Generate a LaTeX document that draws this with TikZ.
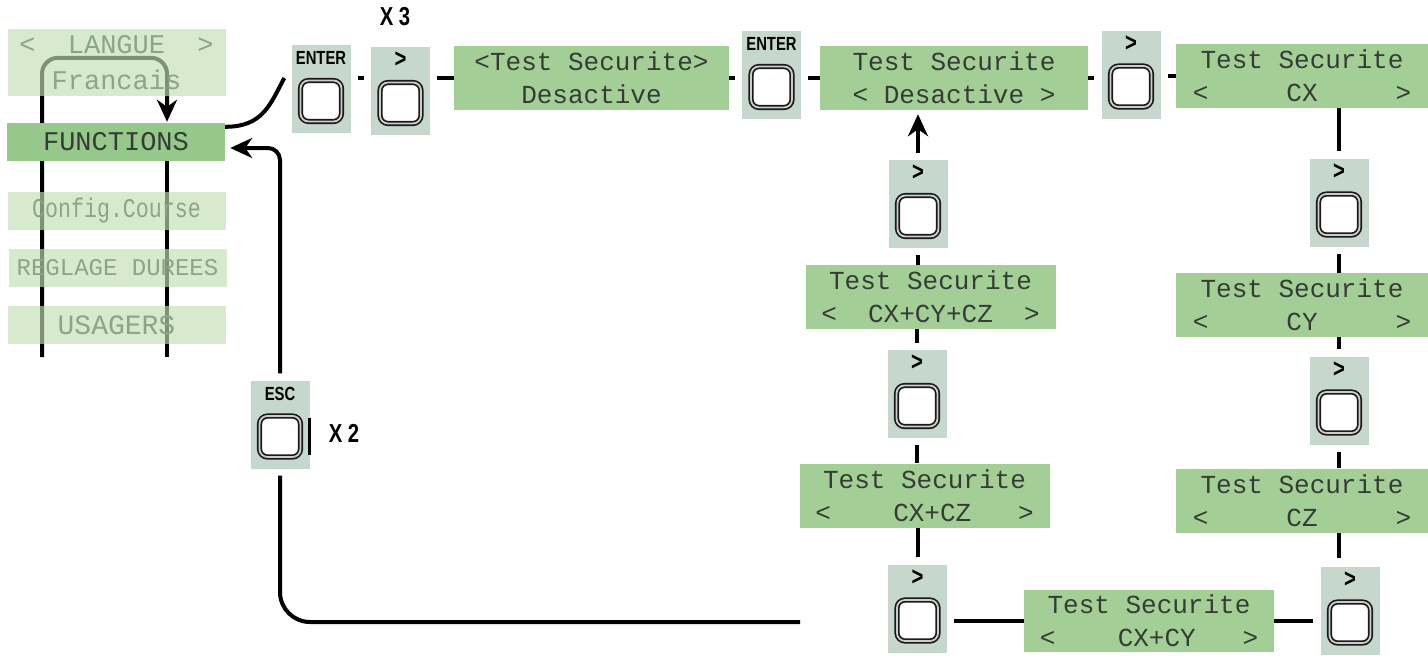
\documentclass[tikz,border=0pt]{standalone}
\usepackage{fontspec}
\usepackage{graphicx}
\usetikzlibrary{arrows.meta}
\newfontfamily\lcdfont{Liberation Mono}
\newfontfamily\keyfont[FakeStretch=0.78]{Liberation Sans}
\newcommand{\chev}{\fontsize{26}{26}\selectfont>}
\definecolor{lcdgreen}{RGB}{163,207,151}
\definecolor{lcdmenu}{RGB}{150,200,140}
\definecolor{lcdfade}{RGB}{193,223,180}
\definecolor{fadetext}{RGB}{138,166,133}
\definecolor{lcdtext}{RGB}{52,60,52}
\definecolor{keygrey}{RGB}{198,215,206}
\pgfdeclarelayer{back}
\pgfsetlayers{back,main}

\begin{document}
\begin{tikzpicture}[x=1pt,y=-1pt,>={Stealth[length=22pt,width=20pt,inset=7pt]},
    lcd/.style={fill=lcdgreen,text=lcdtext,minimum width=250pt,minimum height=64pt,inner sep=0pt,align=center,font=\lcdfont\fontsize{26}{33}\selectfont},
    menu/.style={fill=lcdfade,fill opacity=0.65,text opacity=1,text=fadetext,minimum width=218pt,minimum height=38pt,inner sep=0pt,align=center,font=\lcdfont\fontsize{27}{36}\selectfont},
    menusel/.style={fill=lcdmenu,text=lcdtext,minimum width=218pt,minimum height=38pt,inner sep=0pt,font=\lcdfont\fontsize{27}{36}\selectfont},
    keybg/.style={fill=keygrey,minimum width=59pt,minimum height=88pt,inner sep=0pt},
    keycap/.style={draw=black!90,double=gray!40,line width=1.7pt,double distance=1.8pt,fill=white,rounded corners=8pt,minimum width=41pt,minimum height=41pt,inner sep=0pt},
    keytxt/.style={inner sep=0pt,font=\keyfont\bfseries\fontsize{19}{19}\selectfont},
    times/.style={inner sep=0pt,font=\keyfont\bfseries\fontsize{26}{26}\selectfont},
    wire/.style={line width=4pt},
    btn/.pic={
      \node[keybg] (-bg) at (0,0) {};
      \node[keycap] (-cap) at (0pt,-12pt) {};
      \node[keytxt] (-txt) at (0pt,31pt) {#1};
    }]
    \useasboundingbox (0,0) rectangle (1428,659);

    % menu list
    \node[menu,minimum height=67pt] (langue) at (116.5,62.5) {<~~LANGUE~~>\\Francais};
    \node[menusel] (functions) at (116,142) {FUNCTIONS};
    \node[menu] (config) at (116.5,210.5) {\scalebox{0.8}[1]{Config.Course}};
    \node[menu,font=\lcdfont\fontsize{24}{30}\selectfont] (reglage) at (117.5,267.5) {REGLAGE DUREES};
    \node[menu,font=\lcdfont\fontsize{28}{34}\selectfont] (usagers) at (116.5,325) {USAGERS};
    \coordinate (loopL) at (42,357);
    \coordinate (loopR) at (167,357);
    \begin{pgfonlayer}{back}
      \draw[wire,->,rounded corners=16pt,shorten >=1pt] (loopL) |- ([yshift=-29pt]langue.north) -| (functions.north -| loopR);
      \draw[wire] (functions.south -| loopR) -- (loopR);
    \end{pgfonlayer}

    % top row
    \pic (enter1) at (321,89) {btn=ENTER};
    \pic (arr1) at (400.5,91) {btn=\chev};
    \node[times] (x3) at (395,17) {X 3};
    \node[lcd,minimum width=275pt] (box1) at (591.5,78) {<Test Securite>\\Desactive};
    \pic (enter2) at (771.5,75) {btn=ENTER};
    \node[lcd,minimum width=268pt] (box2) at (954,78) {Test Securite\\<~Desactive~>};
    \pic (arr2) at (1131,74.5) {btn=\chev};
    \node[lcd,minimum width=252pt] (box3) at (1302,76) {Test Securite\\<~~~~~CX~~~~~>};

    % right column
    \pic (r1) at (1339,202.5) {btn=\chev};
    \node[lcd,minimum width=252pt] (cy) at (1302,305) {Test Securite\\<~~~~~CY~~~~~>};
    \pic (r2) at (1339,400.5) {btn=\chev};
    \node[lcd,minimum width=252pt] (cz) at (1302,500.5) {Test Securite\\<~~~~~CZ~~~~~>};
    \pic (r3) at (1350,610.5) {btn=\chev};

    % middle column
    \pic (m1) at (918,204) {btn=\chev};
    \node[lcd] (cxcycz) at (930.5,297) {Test Securite\\<~~CX+CY+CZ~~>};
    \pic (m2) at (917,394) {btn=\chev};
    \node[lcd] (cxcz) at (924.5,495.5) {Test Securite\\<~~~~CX+CZ~~~>};
    \pic (m3) at (917.5,608.5) {btn=\chev};
    \node[lcd,minimum height=62pt] (cxcy) at (1149,621) {Test Securite\\<~~~~CX+CY~~~>};

    % escape
    \pic (esc) at (280,424.5) {btn=ESC};
    \node[times] (x2) at (344,433) {X 2};
    \coordinate (ret) at (800,622);

    \draw[wire] ([yshift=-4pt]functions.north east) .. controls +(38pt,0pt) and +(-14pt,-26pt) .. ([xshift=-7pt,yshift=11pt]enter1-bg.west);
    \draw[wire,shorten <=7pt,shorten >=7pt] (enter1-bg.east |- box1.west) -- (arr1-bg.west |- box1.west);
    \draw[wire,shorten >=7pt] (box1.west) -- (box1.west -| arr1-bg.east);
    \draw[wire,shorten >=7pt] (box1.east) -- (box1.east -| enter2-bg.west);
    \draw[wire,shorten >=7pt] (box2.west) -- (box2.west -| enter2-bg.east);
    \draw[wire,shorten >=7pt] (box2.east) -- (box2.east -| arr2-bg.west);
    \draw[wire,shorten >=7pt] (box3.west) -- (box3.west -| arr2-bg.east);

    \draw[wire,shorten <=7pt] (r1-bg.north) -- (r1-bg.north |- box3.south);
    \draw[wire,shorten <=7pt] (r1-bg.south) -- (r1-bg.south |- cy.north);
    \draw[wire,shorten <=7pt] (r2-bg.north) -- (r2-bg.north |- cy.south);
    \draw[wire,shorten <=7pt] (r2-bg.south) -- (r2-bg.south |- cz.north);
    \draw[wire,shorten >=8pt] (cz.south -| r2-bg) -- (r3-bg.north -| r2-bg);

    \draw[wire,->,shorten <=7pt,shorten >=4pt] (m1-bg.north) -- (m1-bg.north |- box2.south);
    \draw[wire,shorten <=7pt] (m1-bg.south) -- (m1-bg.south |- cxcycz.north);
    \draw[wire,shorten <=7pt] (m2-bg.north) -- (m2-bg.north |- cxcycz.south);
    \draw[wire,shorten <=7pt] (m2-bg.south) -- (m2-bg.south |- cxcz.north);
    \draw[wire,shorten <=7pt] (m3-bg.north) -- (m3-bg.north |- cxcz.south);
    \draw[wire,shorten >=7pt] (cxcy.west) -- (cxcy.west -| m3-bg.east);
    \draw[wire,shorten >=7pt] (cxcy.east) -- (cxcy.east -| r3-bg.west);

    \draw[wire,->,rounded corners=12pt,shorten <=7pt,shorten >=5pt] (esc-bg.north) |- ([yshift=-6pt]functions.east);
    \draw[wire,rounded corners=30pt,shorten >=7pt] (ret) -| (esc-bg.south);
    \draw[line width=2.5pt] ([yshift=7pt]esc-bg.east) -- ([yshift=-30pt]esc-bg.east);
\end{tikzpicture}
\end{document}
